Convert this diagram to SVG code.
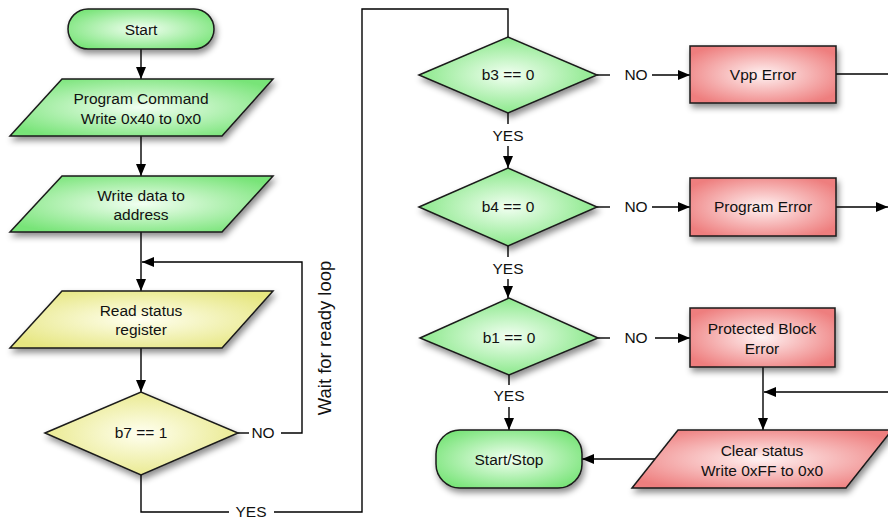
<svg xmlns="http://www.w3.org/2000/svg" width="888" height="523" viewBox="0 0 888 523">
<defs>
<radialGradient id="gG" cx="50%" cy="50%" r="60%"><stop offset="0" stop-color="#f2fff2"/><stop offset="1" stop-color="#78e478"/></radialGradient>
<radialGradient id="gY" cx="50%" cy="50%" r="60%"><stop offset="0" stop-color="#fffff0"/><stop offset="1" stop-color="#e6e680"/></radialGradient>
<radialGradient id="gR" cx="50%" cy="50%" r="60%"><stop offset="0" stop-color="#fff2f2"/><stop offset="1" stop-color="#ee7e7e"/></radialGradient>
<filter id="sh" x="-20%" y="-20%" width="140%" height="150%"><feDropShadow dx="2" dy="4" stdDeviation="3" flood-color="#000" flood-opacity="0.45"/></filter>
<marker id="ar" viewBox="0 0 12 10" refX="12" refY="5" markerWidth="12" markerHeight="10" markerUnits="userSpaceOnUse" orient="auto"><path d="M0,0 L12,5 L0,10 Z" fill="#000"/></marker>
</defs>
<style>
.n{stroke:#1a1a1a;stroke-width:1.5;filter:url(#sh)}
.g{fill:url(#gG)}.y{fill:url(#gY)}.r{fill:url(#gR)}
text{font-family:"Liberation Sans",Arial,Helvetica,sans-serif;font-size:15.5px;fill:#111;text-anchor:middle}
.c{fill:none;stroke:#000;stroke-width:1.4}
.a{marker-end:url(#ar)}
.big{font-size:18.5px}
</style>
<g id="connectors">
<line class="c a" x1="141" y1="49" x2="141" y2="79"/>
<line class="c a" x1="141" y1="136" x2="141" y2="176"/>
<line class="c a" x1="141" y1="232" x2="141" y2="291"/>
<polyline class="c a" points="281,433 302,433 302,262 142,262"/>
<line class="c a" x1="141" y1="348" x2="141" y2="392"/>
<line class="c" x1="238" y1="433" x2="249" y2="433"/>
<polyline class="c" points="141,475 141,512 229,512"/>
<polyline class="c" points="274,512 362,512 362,9 508,9 508,37"/>
<line class="c" x1="597" y1="75" x2="610" y2="75"/>
<line class="c a" x1="652" y1="75" x2="690" y2="75"/>
<line class="c" x1="836" y1="74" x2="888" y2="74"/>
<line class="c" x1="508" y1="113" x2="508" y2="124"/>
<line class="c a" x1="508" y1="146" x2="508" y2="168"/>
<line class="c" x1="597" y1="207" x2="610" y2="207"/>
<line class="c a" x1="652" y1="207" x2="690" y2="207"/>
<line class="c a" x1="836" y1="207" x2="888" y2="207"/>
<line class="c" x1="508" y1="246" x2="508" y2="257"/>
<line class="c a" x1="508" y1="279" x2="508" y2="298"/>
<line class="c" x1="598" y1="338" x2="610" y2="338"/>
<line class="c a" x1="655" y1="338" x2="690" y2="338"/>
<line class="c" x1="509" y1="375" x2="509" y2="385"/>
<line class="c a" x1="509" y1="407" x2="509" y2="430"/>
<line class="c a" x1="763" y1="367" x2="763" y2="430"/>
<line class="c a" x1="888" y1="392" x2="764" y2="392"/>
<line class="c a" x1="655" y1="459" x2="582" y2="459"/>
<text x="263" y="438">NO</text>
<text x="251" y="517">YES</text>
<text x="636" y="80">NO</text>
<text x="508" y="141">YES</text>
<text x="636" y="212">NO</text>
<text x="508" y="274">YES</text>
<text x="636" y="343">NO</text>
<text x="509" y="401">YES</text>
<text class="big" transform="translate(331,338) rotate(-90)">Wait for ready loop</text>
</g>
<g id="start"><rect class="n g" x="68" y="9" width="146" height="40" rx="20"/><text x="141" y="35">Start</text></g>
<g id="program-command"><polygon class="n g" points="62,79 273,79 222,136 10,136"/><text x="141" y="104">Program Command</text><text x="141" y="124">Write 0x40 to 0x0</text></g>
<g id="write-data"><polygon class="n g" points="62,176 273,176 222,232 10,232"/><text x="141" y="201">Write data to</text><text x="141" y="220">address</text></g>
<g id="read-status"><polygon class="n y" points="62,291 273,291 222,348 10,348"/><text x="141" y="316">Read status</text><text x="141" y="335">register</text></g>
<g id="b7"><polygon class="n y" points="45,433 141,392 238,433 141,475"/><text x="141" y="438">b7 == 1</text></g>
<g id="b3"><polygon class="n g" points="419,75 508,37 597,75 508,113"/><text x="508" y="80">b3 == 0</text></g>
<g id="vpp-error"><rect class="n r" x="690" y="46" width="146" height="57"/><text x="763" y="80">Vpp Error</text></g>
<g id="b4"><polygon class="n g" points="419,207 508,168 597,207 508,246"/><text x="508" y="212">b4 == 0</text></g>
<g id="program-error"><rect class="n r" x="690" y="178" width="146" height="58"/><text x="763" y="212">Program Error</text></g>
<g id="b1"><polygon class="n g" points="420,338 509,298 598,338 509,375"/><text x="509" y="343">b1 == 0</text></g>
<g id="protected-block-error"><rect class="n r" x="690" y="308" width="145" height="59"/><text x="762" y="334">Protected Block</text><text x="762" y="354">Error</text></g>
<g id="start-stop"><rect class="n g" x="436" y="430" width="146" height="58" rx="24"/><text x="509" y="465">Start/Stop</text></g>
<g id="clear-status"><polygon class="n r" points="678,430 892,430 846,488 632,488"/><text x="762" y="456">Clear status</text><text x="762" y="476">Write 0xFF to 0x0</text></g>
</svg>
